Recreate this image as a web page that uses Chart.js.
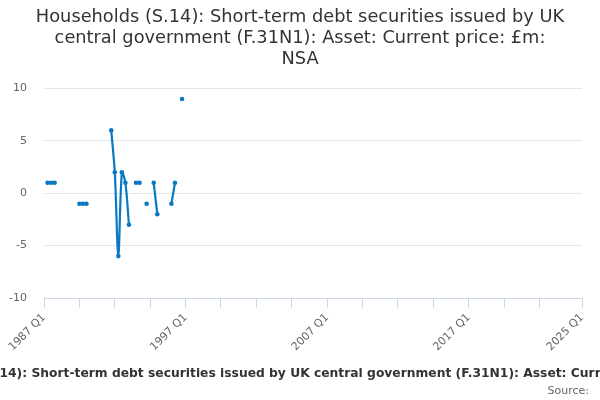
<!DOCTYPE html>
<html>
<head>
<meta charset="utf-8">
<script src="https://cdn.jsdelivr.net/npm/chart.js@4"></script>
<style>
html,body{margin:0;padding:0;background:#fff;}
#wrap{width:600px;height:400px;position:relative;}
</style>
</head>
<body>
<div id="wrap"><canvas id="c" width="600" height="400"></canvas></div>
<script>
const titleLines = [
  "Households (S.14): Short-term debt securities issued by UK",
  "central government (F.31N1): Asset: Current price: £m:",
  "NSA"
];
const axisTitle = "Households (S.14): Short-term debt securities issued by UK central government (F.31N1): Asset: Current price: £m: NSA";
const axisTitleHiddenPrefix = "Households (S.";
const sourceText = "Source:";

const firstYear = 1987;
const lastYear = 2025;
const categories = [];
for (let y = firstYear; y <= lastYear; y++) {
  for (let q = 1; q <= 4; q++) {
    if (y === lastYear && q > 1) break;
    categories.push(y + " Q" + q);
  }
}

// 1987 Q1 .. 2025 Q1 (153 quarters)
const values = [
  null, 1, 1, 1, null, null, null, null, null, null,
  -1, -1, -1, null, null, null, null, null, null, 6,
  2, -6, 2, 1, -3, null, 1, 1, null, -1,
  null, 1, -2, null, null, null, -1, 1, null, 9,
  null, null, null, null, null, null, null, null, null, null,
  null, null, null, null, null, null, null, null, null, null,
  null, null, null, null, null, null, null, null, null, null,
  null, null, null, null, null, null, null, null, null, null,
  null, null, null, null, null, null, null, null, null, null,
  null, null, null, null, null, null, null, null, null, null,
  null, null, null, null, null, null, null, null, null, null,
  null, null, null, null, null, null, null, null, null, null,
  null, null, null, null, null, null, null, null, null, null,
  null, null, null, null, null, null, null, null, null, null,
  null, null, null, null, null, null, null, null, null, null,
  null, null, null
];

const xTickIndices = [0, 10, 20, 30, 40, 50, 60, 70, 80, 90, 100, 110, 120, 130, 140, 152];
const xLabelIndices = [0, 40, 80, 120, 152];
const yTicks = [-10, -5, 0, 5, 10];

const FONT = "'DejaVu Sans', sans-serif";

const bottomText = {
  id: 'bottomText',
  afterDraw(chart) {
    const ctx = chart.ctx;
    ctx.save();
    ctx.font = "bold 12.3px " + FONT;
    ctx.fillStyle = '#333333';
    ctx.textAlign = 'left';
    ctx.textBaseline = 'alphabetic';
    const shift = ctx.measureText(axisTitleHiddenPrefix).width;
    ctx.fillText(axisTitle, -shift - 0.5, 377);
    ctx.font = "11px " + FONT;
    ctx.fillStyle = '#666666';
    ctx.textAlign = 'right';
    ctx.fillText(sourceText, 589, 394);
    ctx.restore();
  }
};

new Chart(document.getElementById('c'), {
  type: 'line',
  data: {
    labels: categories,
    datasets: [{
      data: values,
      borderColor: '#0a78c2',
      backgroundColor: '#0a78c2',
      pointBackgroundColor: '#0a78c2',
      pointBorderWidth: 0,
      pointRadius: 2.3,
      borderWidth: 2.2,
      tension: 0.3,
      spanGaps: false
    }]
  },
  options: {
    responsive: false,
    animation: false,
    devicePixelRatio: 1,
    layout: { padding: 0 },
    plugins: {
      legend: { display: false },
      tooltip: { enabled: false },
      title: {
        display: true,
        text: titleLines,
        color: '#333333',
        font: { family: FONT, size: 17.8, weight: 'normal', lineHeight: 1.18 },
        padding: { top: 7, bottom: 18.5 }
      }
    },
    scales: {
      x: {
        type: 'category',
        offset: false,
        afterFit(scale) { scale.height = 102; scale.paddingRight = 18; },
        afterBuildTicks(scale) {
          scale.ticks = xTickIndices.map(v => ({ value: v }));
        },
        grid: {
          display: true,
          drawOnChartArea: false,
          drawTicks: true,
          tickLength: 10,
          color: '#ccd6eb'
        },
        border: { display: true, color: '#ccd6eb', width: 1 },
        ticks: {
          autoSkip: false,
          minRotation: 45,
          maxRotation: 45,
          padding: 3,
          color: '#666666',
          font: { family: FONT, size: 11 },
          callback(value) {
            return xLabelIndices.includes(value) ? categories[value] : '';
          }
        }
      },
      y: {
        min: -10,
        max: 10,
        afterFit(scale) { scale.width = 44; },
        afterBuildTicks(scale) {
          scale.ticks = yTicks.map(v => ({ value: v }));
        },
        grid: { color: '#e6e6e6', drawTicks: false },
        border: { display: false },
        ticks: {
          padding: 17,
          color: '#666666',
          font: { family: FONT, size: 11 }
        }
      }
    }
  },
  plugins: [bottomText]
});
</script>
</body>
</html>
